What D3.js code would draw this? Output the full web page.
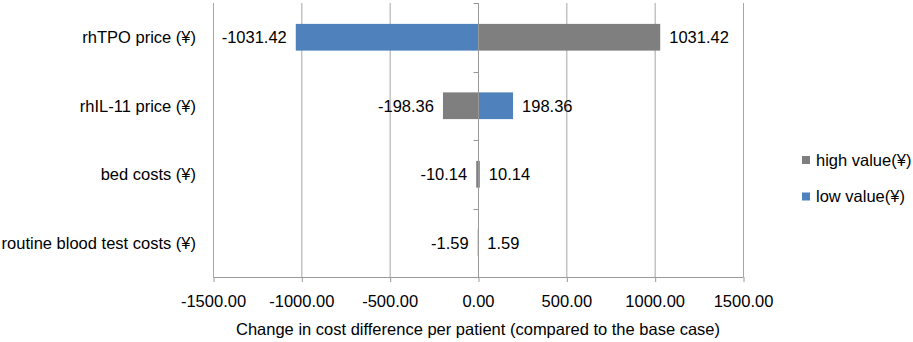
<!DOCTYPE html>
<html>
<head>
<meta charset="utf-8">
<script src="https://cdn.jsdelivr.net/npm/d3@7"></script>
<style>
  html, body { margin: 0; padding: 0; background: #fff; }
  svg { display: block; font-family: "Liberation Sans", Arial, sans-serif; }
</style>
</head>
<body>
<svg id="chart" width="913" height="342"></svg>
<script>
const categories = ["rhTPO price (¥)", "rhIL-11 price (¥)", "bed costs (¥)", "routine blood test costs (¥)"];
const highValues = [1031.42, -198.36, -10.14, -1.59];
const lowValues = [-1031.42, 198.36, 10.14, 1.59];
const seriesNames = ["high value(¥)", "low value(¥)"];
const xTicks = [-1500, -1000, -500, 0, 500, 1000, 1500];
const xTitle = "Change in cost difference per patient (compared to the base case)";

(function () {
const colors = { high: "#7f7f7f", low: "#4f81bd" };
const FS = 16.5;
const svg = d3.select("#chart");
const pLeft = 213, pRight = 743, pTop = 3, pBottom = 277;
const fmt = d3.formatLocale({ decimal: ".", thousands: ",", grouping: [3], currency: ["", ""], minus: "-" }).format(".2f");

const x = d3.scaleLinear().domain([-1500, 1500]).range([pLeft, pRight]);
const y = d3.scaleBand().domain(categories).range([pTop, pBottom]).paddingInner(0.61).paddingOuter(0.305);
const yOuter = d3.scaleBand().domain(categories).range([pTop, pBottom]);

// gridlines
svg.append("g").selectAll("line").data(xTicks).join("line")
  .attr("x1", d => x(d) + 0.5).attr("x2", d => x(d) + 0.5)
  .attr("y1", pTop).attr("y2", pBottom)
  .attr("stroke", "#a6a6a6").attr("stroke-width", 1);

// bars
const rows = categories.map((c, i) => ({ c, high: highValues[i], low: lowValues[i] }));
["high", "low"].forEach(k => {
  svg.append("g").selectAll("rect").data(rows).join("rect")
    .attr("x", d => x(Math.min(0, d[k])))
    .attr("width", d => Math.abs(x(d[k]) - x(0)))
    .attr("y", d => y(d.c))
    .attr("height", y.bandwidth())
    .attr("fill", colors[k]);
});

// data labels
["high", "low"].forEach(k => {
  svg.append("g").selectAll("text").data(rows).join("text")
    .attr("x", d => d[k] < 0 ? x(d[k]) - 9 : x(d[k]) + 9)
    .attr("y", d => y(d.c) + y.bandwidth() / 2)
    .attr("dy", "0.35em")
    .attr("text-anchor", d => d[k] < 0 ? "end" : "start")
    .attr("font-size", FS).attr("fill", "#000")
    .text(d => fmt(d[k]));
});

// bottom axis
const xAxis = d3.axisBottom(x).tickValues(xTicks).tickFormat(fmt).tickSize(5).tickPadding(13);
const gx = svg.append("g").attr("transform", `translate(0.5,${pBottom})`).call(xAxis);
gx.select(".domain").attr("stroke", "#999").attr("d", `M${pLeft},0.5H${pRight}`);
gx.selectAll(".tick line").attr("stroke", "#999");
gx.selectAll(".tick text").attr("font-size", FS).attr("fill", "#000")
  .attr("font-family", "Liberation Sans, Arial, sans-serif").attr("x", -0.5);

// vertical category axis at zero
const yAxis = d3.axisLeft(yOuter).tickSize(0).tickFormat("");
const gy = svg.append("g").attr("transform", `translate(${x(0) + 0.5},0)`).call(yAxis);
gy.select(".domain").attr("stroke", "#999").attr("d", `M0,${pTop}V${pBottom}`);
const bounds = categories.map(c => yOuter(c)).concat([pBottom]);
gy.selectAll("line.bound").data(bounds).join("line").attr("class", "bound")
  .attr("x1", -5).attr("x2", 0).attr("y1", d => Math.round(d) + 0.5).attr("y2", d => Math.round(d) + 0.5)
  .attr("stroke", "#999");

// category labels
svg.append("g").selectAll("text").data(categories).join("text")
  .attr("x", 196)
  .attr("y", d => yOuter(d) + yOuter.bandwidth() / 2)
  .attr("dy", "0.35em")
  .attr("text-anchor", "end")
  .attr("font-size", FS).attr("fill", "#000")
  .text(d => d);

// axis title
svg.append("text").attr("x", (pLeft + pRight) / 2).attr("y", 329).attr("dy", "0.35em")
  .attr("text-anchor", "middle").attr("font-size", FS).attr("fill", "#000").text(xTitle);

// legend
const legendY = [160, 196.5];
const lg = svg.append("g");
seriesNames.forEach((n, i) => {
  lg.append("rect").attr("x", 802).attr("y", legendY[i] - 4).attr("width", 8).attr("height", 8)
    .attr("fill", i === 0 ? colors.high : colors.low);
  lg.append("text").attr("x", 816).attr("y", legendY[i]).attr("dy", "0.35em")
    .attr("font-size", FS).attr("fill", "#000").text(n);
});
})();
</script>
</body>
</html>
